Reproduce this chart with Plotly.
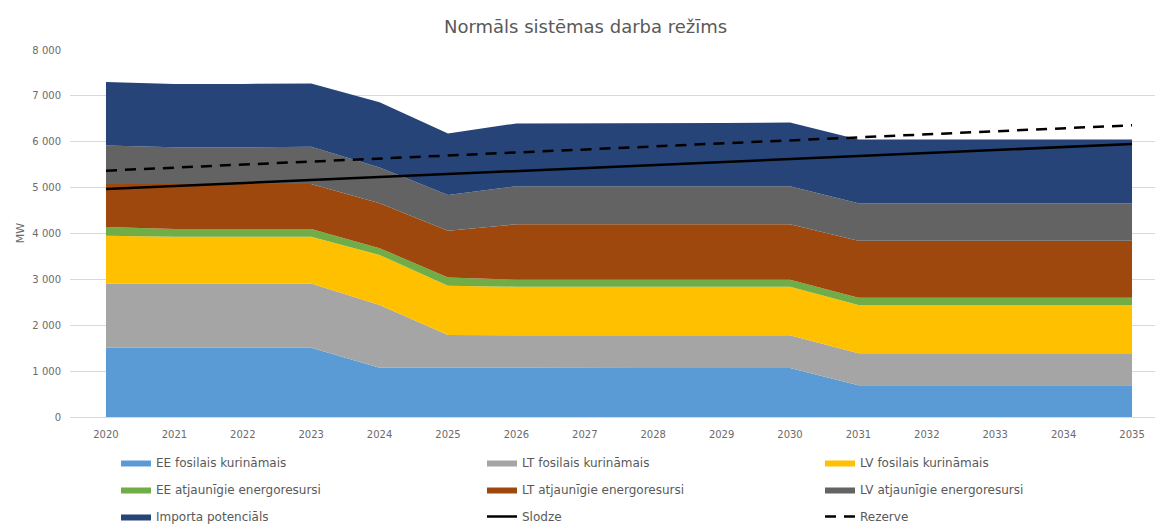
import plotly.graph_objects as go

# Years on the category axis
years = list(range(2020, 2036))

# Stacked capacity components, MW (bottom to top)
ee_fossil = [1510, 1510, 1510, 1510, 1075, 1070, 1070, 1070, 1070, 1070, 1070, 690, 690, 690, 690, 690]
lt_fossil = [1400, 1400, 1400, 1400, 1365, 720, 710, 710, 710, 710, 710, 700, 700, 700, 700, 700]
lv_fossil = [1040, 1020, 1020, 1020, 1090, 1070, 1060, 1060, 1060, 1060, 1060, 1050, 1050, 1050, 1050, 1050]
ee_renew = [190, 170, 170, 170, 150, 180, 150, 150, 150, 150, 150, 160, 160, 160, 160, 160]
lt_renew = [940, 980, 980, 980, 980, 1020, 1210, 1210, 1210, 1210, 1210, 1240, 1240, 1240, 1240, 1240]
lv_renew = [840, 800, 800, 810, 780, 780, 830, 830, 830, 830, 830, 820, 820, 820, 820, 820]
imports = [1380, 1380, 1380, 1380, 1420, 1340, 1370, 1370, 1370, 1380, 1390, 1390, 1390, 1390, 1390, 1390]

# Load and reserve requirement, MW
load = [4970, 5035, 5100, 5165, 5230, 5300, 5365, 5430, 5495, 5560, 5625, 5690, 5755, 5820, 5885, 5950]
reserve = [5370, 5436, 5502, 5568, 5634, 5700, 5766, 5832, 5898, 5964, 6030, 6096, 6162, 6228, 6294, 6360]

y_ticks = [0, 1000, 2000, 3000, 4000, 5000, 6000, 7000, 8000]

FONT = "DejaVu Sans"
GREY = "#595959"
TICK_GREY = "#6b6b6b"

areas = [
    ("EE fosilais kurināmais", ee_fossil, "#5B9BD5", "legend"),
    ("LT fosilais kurināmais", lt_fossil, "#A5A5A5", "legend2"),
    ("LV fosilais kurināmais", lv_fossil, "#FFC000", "legend3"),
    ("EE atjaunīgie energoresursi", ee_renew, "#70AD47", "legend"),
    ("LT atjaunīgie energoresursi", lt_renew, "#9E480E", "legend2"),
    ("LV atjaunīgie energoresursi", lv_renew, "#636363", "legend3"),
    ("Importa potenciāls", imports, "#264478", "legend"),
]

fig = go.Figure()
for name, vals, color, leg in areas:
    fig.add_trace(go.Scatter(
        x=years, y=vals, name=name, mode="lines",
        stackgroup="one", line=dict(width=0, color=color),
        fillcolor=color, legend=leg, legendgroup=name,
    ))

fig.add_trace(go.Scatter(
    x=years, y=load, name="Slodze", mode="lines",
    line=dict(color="black", width=2.5), legend="legend2", legendgroup="Slodze",
))
fig.add_trace(go.Scatter(
    x=years, y=reserve, name="Rezerve", mode="lines",
    line=dict(color="black", width=2.5, dash="11px,8px"), legend="legend3", legendgroup="Rezerve",
))

leg_common = dict(
    xref="container", yref="container", yanchor="top", xanchor="left",
    orientation="v", tracegroupgap=8, bgcolor="rgba(0,0,0,0)",
    font=dict(family=FONT, size=12, color=GREY),
)
legend_top = 1 - 448 / 524

fig.update_layout(
    width=1155, height=524, autosize=False,
    paper_bgcolor="white", plot_bgcolor="white",
    margin=dict(l=70, r=0, t=50, b=107, autoexpand=False),
    separators=", ",
    title=dict(
        text="Normāls sistēmas darba režīms",
        x=0.507, xanchor="center", y=1 - 27 / 524, yanchor="middle",
        font=dict(family=FONT, size=18, color=GREY),
    ),
    legend=dict(x=116 / 1155, y=legend_top, **leg_common),
    legend2=dict(x=482 / 1155, y=legend_top, **leg_common),
    legend3=dict(x=820 / 1155, y=legend_top, **leg_common),
    xaxis=dict(
        range=[2019.474, 2035.336], tickvals=years, tickformat="d",
        showgrid=False, showline=True, linecolor="#D9D9D9", linewidth=1,
        ticks="", ticklabelstandoff=8,
        tickfont=dict(family=FONT, size=10, color=TICK_GREY),
    ),
    yaxis=dict(
        range=[0, 8000], tickvals=y_ticks, separatethousands=True, tickformat=",d",
        showgrid=True, gridcolor="#D9D9D9", gridwidth=1, zeroline=False,
        showline=False, ticks="", ticklabelstandoff=8,
        tickfont=dict(family=FONT, size=10, color=TICK_GREY),
    ),
    annotations=[dict(
        text="MW", xref="paper", yref="paper", x=-0.0455, y=0.5,
        xanchor="center", yanchor="middle", textangle=-90, showarrow=False,
        font=dict(family=FONT, size=11, color=TICK_GREY),
    )],
)

fig.write_html("out.html")
